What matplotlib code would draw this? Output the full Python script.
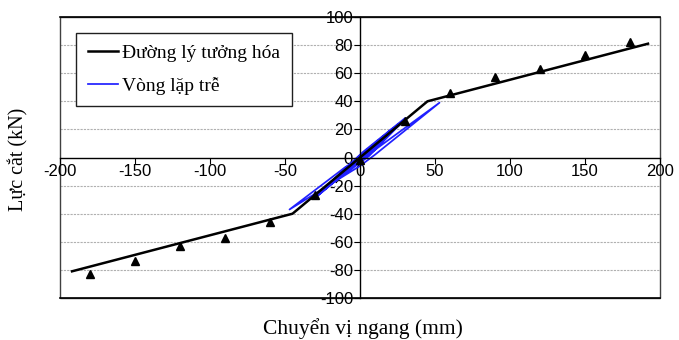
import numpy as np
import matplotlib.pyplot as plt
from matplotlib.patches import Rectangle

# idealized envelope
ideal_x = [-192, -45, 45, 192]
ideal_y = [-81, -40, 40, 81]

# test points (triangles)
pts_x = [-180, -150, -120, -90, -60, -30, 0, 30, 60, 90, 120, 150, 180]
pts_y = [-83, -74, -63, -57, -46, -27, -2, 26, 46, 57, 63, 73, 82]

# hysteresis loops
hyst_x = [0, 5, 1, -5, -1, 6, 1, -6, -1, 10, 1, -10, -1, 11, 1, -11, -1,
          15, 2, -15, -2, 16, 2, -16, -2, 20, 2, -20, -2, 21, 3, -21, -3,
          25, 3, -25, -3, 26, 3, -26, -3, 30, 4, -30, -4, 29, 4, -29, -4,
          28, 5, -28, -5, 30, 2, -31, -2, 27, 6, -27, -6,
          53, 10, 0, -47, -10, 0]
hyst_y = [0, 5, 1, -5, -1, 6, 1, -6, -1, 10, 2, -10, -2, 11, 2, -11, -2,
          14, 3, -14, -3, 15, 3, -15, -3, 19, 3, -19, -3, 20, 3, -20, -4,
          23, 3, -24, -4, 24, 4, -24, -4, 27, 4, -28, -5, 26, 4, -27, -5,
          25, 2, -27, -6, 28, 4, -29, -2, 24, 1, -25, -7,
          39, 2, -6, -37, -7, 0]

plt.rcParams['font.family'] = ['Liberation Sans', 'DejaVu Sans']
plt.rcParams['axes.unicode_minus'] = False

fig = plt.figure(figsize=(6.79, 3.40), dpi=100)
ax = fig.add_axes([0.0884, 0.1235, 0.8836, 0.8265])

ax.set_xlim(-200, 200)
ax.set_ylim(-100, 100)

for yv in [-80, -60, -40, -20, 20, 40, 60, 80]:
    ax.axhline(yv, color='#b0b0b0', lw=0.8, ls=(0, (2, 1)), zorder=0)

ax.plot(hyst_x, hyst_y, color='#2020ff', lw=1.25, label='Vòng lặp trễ', zorder=2)
ax.plot(ideal_x, ideal_y, color='black', lw=1.8, label='Đường lý tưởng hóa', zorder=3)
ax.plot(pts_x, pts_y, '^', color='black', ms=6, zorder=4)

ax.spines['left'].set_position(('data', 0))
ax.spines['bottom'].set_position(('data', 0))
ax.spines['right'].set_visible(False)
ax.spines['top'].set_visible(False)
ax.spines['left'].set_linewidth(1.0)
ax.spines['bottom'].set_linewidth(1.0)

# outer frame
ax.add_patch(Rectangle((0, 0), 1, 1, transform=ax.transAxes, fill=False,
                       edgecolor='#404040', lw=1.0, clip_on=False, zorder=1))
ax.plot([0, 1], [1, 1], transform=ax.transAxes, color='black', lw=1.2, clip_on=False)
ax.plot([0, 1], [0, 0], transform=ax.transAxes, color='black', lw=1.2, clip_on=False)

ax.set_xticks(np.arange(-200, 201, 50))
ax.set_yticks(np.arange(-100, 101, 20))
ax.tick_params(axis='both', labelsize=12, length=4, direction='out', pad=1)

handles, labels = ax.get_legend_handles_labels()
leg = ax.legend(handles[::-1], labels[::-1], loc='upper left',
                bbox_to_anchor=(0.027, 0.943), borderaxespad=0, fancybox=False,
                framealpha=1, edgecolor='#202020',
                prop={'family': 'Liberation Serif', 'size': 14},
                handlelength=1.55, handletextpad=0.2, borderpad=0.6, labelspacing=0.75)
leg.get_frame().set_linewidth(1.0)

fig.text(0.027, 0.53, 'Lực cắt (kN)', rotation=90, ha='center', va='center',
         family='Liberation Serif', fontsize=14.5)
fig.text(0.535, 0.035, 'Chuyển vị ngang (mm)', ha='center', va='center',
         family='Liberation Serif', fontsize=15.5)

fig.savefig('out.png', dpi=100)
